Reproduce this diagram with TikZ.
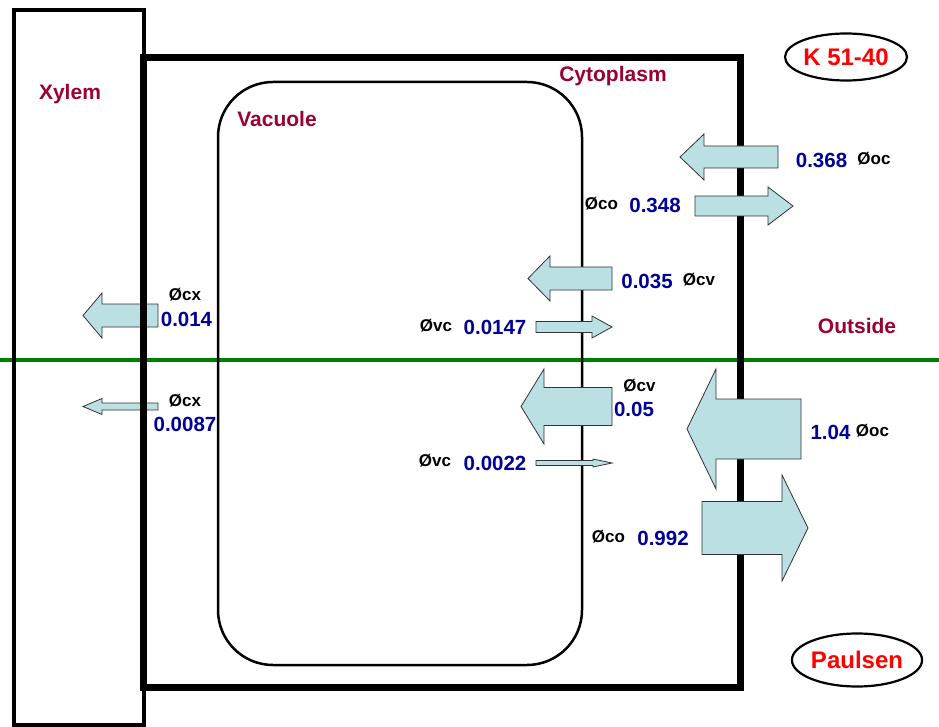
\documentclass[tikz,border=0pt]{standalone}
\usepackage{fontspec}
\setmainfont{Liberation Sans}
\usetikzlibrary{shapes.geometric}
\definecolor{numblue}{RGB}{0,0,153}
\definecolor{regred}{RGB}{153,0,51}
\definecolor{fluxfill}{RGB}{187,224,227}
\definecolor{divgreen}{RGB}{0,128,0}
\tikzset{
  flux/.style={fill=fluxfill,draw=black!80,line width=0.8pt,line join=miter},
  num/.style={font=\fontsize{20.5}{24}\selectfont\bfseries,text=numblue,inner sep=0pt},
  sym/.style={font=\fontsize{17}{20}\selectfont\bfseries,inner sep=0pt},
  region/.style={font=\fontsize{21}{24}\selectfont\bfseries,text=regred,inner sep=0pt,anchor=base},
  tag/.style={ellipse,draw,line width=2.2pt,font=\fontsize{24}{28}\selectfont\bfseries,text=red,inner sep=0pt}
}
\newcommand{\fluxarrow}[6]{\draw[flux] (#1,#4) -- (#2,#4-#5) -- (#2,#4-#6) -- (#3,#4-#6) -- (#3,#4+#6) -- (#2,#4+#6) -- (#2,#4+#5) -- cycle;}
\begin{document}
\begin{tikzpicture}[x=1pt,y=-1pt]
  \useasboundingbox (0,0) rectangle (939,727);
  \draw[divgreen,line width=3.5pt] (0,360) -- (939,360);
  \fluxarrow{83}{102}{158}{315.5}{22.5}{11.5}
  \fluxarrow{83}{102}{158}{406.5}{8}{3.5}
  \draw[line width=4pt] (14,10) rectangle (143.5,725);
  \draw[line width=7pt] (143.5,58) rectangle (740.5,687);
  \draw[line width=2.5pt,rounded corners=55pt] (218,82) rectangle (582,665);
  \fluxarrow{680}{704}{778}{157}{23}{11}
  \fluxarrow{793}{768}{695}{206}{19}{10}
  \fluxarrow{528}{550}{612}{278.5}{22.5}{11.5}
  \fluxarrow{612}{592}{536}{327}{11}{5.5}
  \fluxarrow{521}{544}{612}{406.5}{37.5}{19}
  \fluxarrow{612}{593}{536}{463}{4}{2.5}
  \fluxarrow{687}{716}{801}{429}{60}{30}
  \fluxarrow{808}{782}{702}{528}{53}{26.5}
  \node[region] (xylem) at (70,100) {Xylem};
  \node[region] (vacuole) at (277,127) {Vacuole};
  \node[region] (cytoplasm) at (613,82) {Cytoplasm};
  \node[region] (outside) at (857,333) {Outside};
  \node[tag,minimum width=122pt,minimum height=47pt] (site) at (846,57) {K 51-40};
  \node[tag,minimum width=130pt,minimum height=53pt] (author) at (857,660) {Paulsen};
  \node[num] (ocnumA) at (821.5,160.5) {0.368};
  \node[sym] (ocsymA) at (874,159) {Øoc};
  \node[sym] (cosymA) at (601.5,203.5) {Øco};
  \node[num] (conumA) at (655,205.5) {0.348};
  \node[num] (cvnumA) at (647,281) {0.035};
  \node[sym] (cvsymA) at (699,279.5) {Øcv};
  \node[sym] (vcsymA) at (436,326) {Øvc};
  \node[num] (vcnumA) at (495,327) {0.0147};
  \node[sym] (cxsymA) at (185,295) {Øcx};
  \node[num] (cxnumA) at (186.5,319.5) {0.014};
  \node[sym] (cxsymB) at (185,401) {Øcx};
  \node[num] (cxnumB) at (185,424) {0.0087};
  \node[sym] (cvsymB) at (639.5,386) {Øcv};
  \node[num] (cvnumB) at (634,409.5) {0.05};
  \node[sym] (vcsymB) at (435,461) {Øvc};
  \node[num] (vcnumB) at (495,463) {0.0022};
  \node[num] (ocnumB) at (830.5,432.5) {1.04};
  \node[sym] (ocsymB) at (872.5,431) {Øoc};
  \node[sym] (cosymB) at (608.5,536.5) {Øco};
  \node[num] (conumB) at (663,538.5) {0.992};
\end{tikzpicture}
\end{document}
